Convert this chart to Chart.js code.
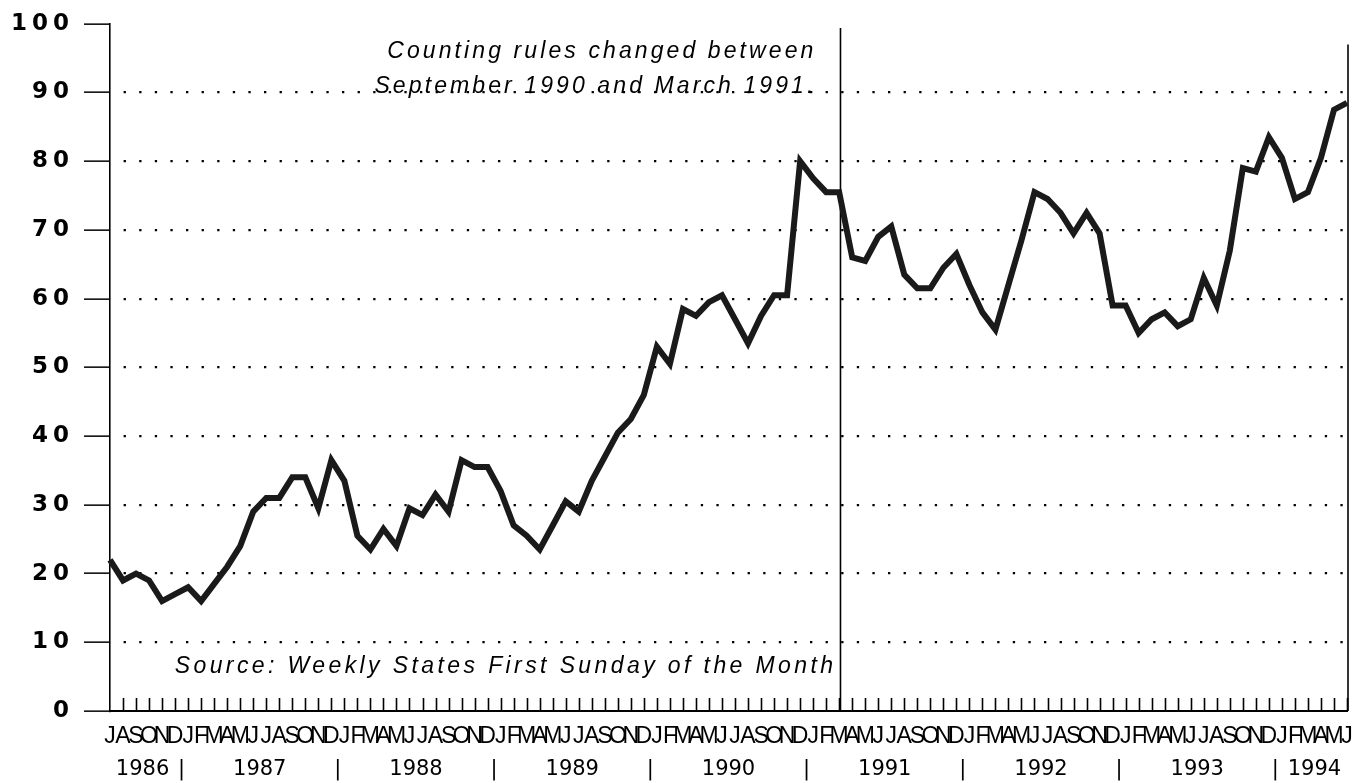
<!DOCTYPE html>
<html><head><meta charset="utf-8">
<script src="https://cdn.jsdelivr.net/npm/chart.js@4.4.0/dist/chart.umd.min.js"></script>
<style>html,body{margin:0;padding:0;background:#fff;}canvas{display:block;}</style>
</head><body>
<canvas id="c" width="1356" height="783"></canvas>
<script>
// Month initials, July 1986 .. June 1994
const months1986 = ["J","A","S","O","N","D"];
const monthsFull = ["J","F","M","A","M","J","J","A","S","O","N","D"];
const months1994 = ["J","F","M","A","M","J"];
const years = ["1986","1987","1988","1989","1990","1991","1992","1993","1994"];
const monthsPerYear = [6,12,12,12,12,12,12,12,6];

const values = [
  22, 19, 20, 19, 16, 17,                                   // 1986 J-D
  18, 16, 18.5, 21, 24, 29, 31, 31, 34, 34, 29.5, 36.5,     // 1987
  33.5, 25.5, 23.5, 26.5, 24, 29.5, 28.5, 31.5, 29, 36.5, 35.5, 35.5, // 1988
  32, 27, 25.5, 23.5, 27, 30.5, 29, 33.5, 37, 40.5, 42.5, 46,          // 1989
  53, 50.5, 58.5, 57.5, 59.5, 60.5, 57, 53.5, 57.5, 60.5, 60.5, 80,    // 1990
  77.5, 75.5, 75.5, 66, 65.5, 69, 70.5, 63.5, 61.5, 61.5, 64.5, 66.5,  // 1991
  62, 58, 55.5, 62, 68.5, 75.5, 74.5, 72.5, 69.5, 72.5, 69.5, 59,      // 1992
  59, 55, 57, 58, 56, 57, 63, 59, 67, 79, 78.5, 83.5,                  // 1993
  80.5, 74.5, 75.5, 80.5, 87.5, 88.5                                   // 1994
];
const yTicks = [0,10,20,30,40,50,60,70,80,90,100];
const changeMonth = 56.1; // rules change marker (March 1991)
const noteLines = ["Counting rules changed between", "September 1990 and March 1991."];
const sourceNote = "Source: Weekly States First Sunday of the Month";

const monthLabels = [].concat(months1986, ...Array(7).fill(monthsFull), months1994);

// year label ticks (centres) and separators on the month index axis
const yearTickMap = new Map();
let start = 0;
years.forEach((y, k) => {
  const n = monthsPerYear[k];
  yearTickMap.set(start + (n - 1) / 2, y);
  if (k < years.length - 1) yearTickMap.set(start + n - 0.5, "|");
  start += n;
});

const FONT = "'Liberation Sans', Arial, Helvetica, sans-serif";
const WIDE = "'DejaVu Sans', Verdana, sans-serif";

const spacingPlugin = {
  id: 'spacing',
  beforeDraw(chart) { chart.ctx.letterSpacing = '0px'; },
  afterDatasetsDraw(chart) { chart.ctx.letterSpacing = '5px'; }
};

const decorPlugin = {
  id: 'decor',
  beforeDatasetsDraw(chart) {
    const ctx = chart.ctx, xs = chart.scales.x, ys = chart.scales.y, a = chart.chartArea;
    ctx.save();
    ctx.strokeStyle = '#000';
    // inward month ticks
    ctx.lineWidth = 1.6;
    ctx.beginPath();
    for (let i = 1; i < monthLabels.length; i++) {
      const px = Math.round(xs.getPixelForValue(i)) + 0.5;
      ctx.moveTo(px, a.bottom);
      ctx.lineTo(px, a.bottom - 13);
    }
    ctx.stroke();
    // right border
    ctx.beginPath();
    ctx.moveTo(a.right + 1, ys.getPixelForValue(97));
    ctx.lineTo(a.right + 1, a.bottom);
    ctx.stroke();
    // change marker line
    const cx = xs.getPixelForValue(changeMonth);
    ctx.beginPath();
    ctx.moveTo(cx, ys.getPixelForValue(99.4));
    ctx.lineTo(cx, a.bottom);
    ctx.stroke();
    ctx.restore();
  },
  afterDraw(chart) {
    const ctx = chart.ctx, xs = chart.scales.x, ys = chart.scales.y;
    const cx = xs.getPixelForValue(changeMonth);
    ctx.save();
    ctx.fillStyle = '#000';
    ctx.font = "italic 23px " + FONT;
    ctx.textAlign = 'right';
    ctx.textBaseline = 'middle';
    ctx.letterSpacing = '3.1px';
    ctx.fillText(noteLines[0], cx - 24, ys.getPixelForValue(95.9));
    ctx.fillText(noteLines[1], cx - 24, ys.getPixelForValue(90.8));
    ctx.letterSpacing = '3.4px';
    ctx.fillText(sourceNote, cx - 4, ys.getPixelForValue(6.4));
    ctx.restore();
  }
};

new Chart(document.getElementById('c'), {
  type: 'line',
  data: {
    labels: monthLabels,
    datasets: [{
      data: values,
      borderColor: '#1a1a1a',
      borderWidth: 6,
      pointRadius: 0,
      tension: 0,
      borderJoinStyle: 'miter',
      xAxisID: 'x', yAxisID: 'y'
    }]
  },
  options: {
    responsive: false,
    animation: false,
    events: [],
    layout: { padding: { top: 20, right: 9, left: 0, bottom: 0 } },
    plugins: { legend: { display: false }, tooltip: { enabled: false } },
    scales: {
      x: {
        type: 'category', position: 'bottom', offset: false,
        grid: { display: false, drawTicks: false, drawOnChartArea: false },
        border: { display: true, color: '#000', width: 2 },
        ticks: {
          autoSkip: false, maxRotation: 0, minRotation: 0, padding: 12, color: '#000',
          font: { family: "'Liberation Sans Narrow', " + FONT, size: 23 }
        },
        afterFit(s) { s.height = 40; s.paddingLeft = 0; s.paddingRight = 0; }
      },
      x2: {
        type: 'linear', position: 'bottom', min: 0, max: monthLabels.length - 1, offset: false,
        grid: { display: false, drawTicks: false, drawOnChartArea: false },
        border: { display: false },
        afterBuildTicks(s) { s.ticks = [...yearTickMap.keys()].map(v => ({ value: v })); },
        ticks: {
          autoSkip: false, maxRotation: 0, minRotation: 0, padding: 6, color: '#000',
          font: { family: WIDE, size: 21 },
          callback: (v) => yearTickMap.get(v) || ''
        },
        afterFit(s) { s.height = 32; s.paddingLeft = 0; s.paddingRight = 0; }
      },
      y: {
        type: 'linear', min: 0, max: 100,
        afterBuildTicks(s) { s.ticks = yTicks.map(v => ({ value: v })); },
        grid: {
          color: (c) => (c.tick && (c.tick.value === 0 || c.tick.value === 100)) ? 'rgba(0,0,0,0)' : '#000',
          lineWidth: 2.3,
          drawTicks: true, tickLength: 26, tickColor: '#000', tickWidth: 1.5, tickBorderDash: []
        },
        border: { display: true, color: '#000', width: 1.6, dash: [2.3, 13.3], dashOffset: 2.6 },
        ticks: { padding: 10, color: '#000', z: 1, font: { family: WIDE, size: 23, weight: 'bold' } },
        afterFit(s) { s.width = 110; }
      }
    }
  },
  plugins: [spacingPlugin, decorPlugin]
});
</script>
</body></html>
